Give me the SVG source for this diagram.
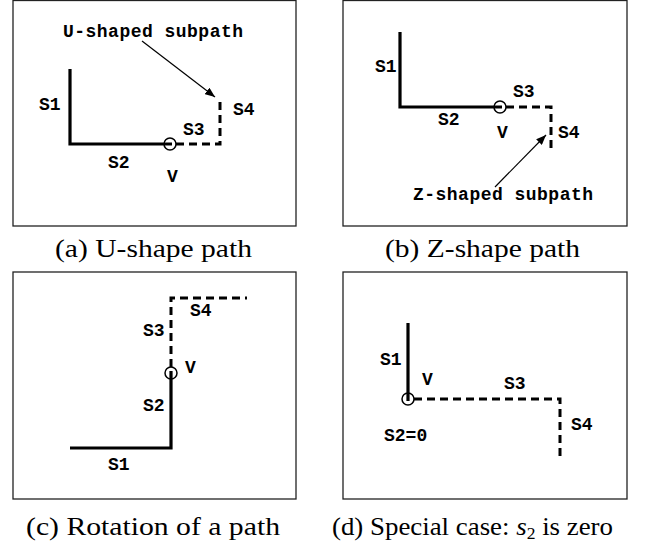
<svg xmlns="http://www.w3.org/2000/svg" width="659" height="546" viewBox="0 0 659 546">
<style>
.frame{fill:none;stroke:#222;stroke-width:1.3}
.solid{fill:none;stroke:#000;stroke-width:3.2;stroke-linecap:butt;stroke-linejoin:miter}
.dash{fill:none;stroke:#000;stroke-width:3;stroke-dasharray:8 5}
.vtx{fill:none;stroke:#000;stroke-width:1.5}
.lbl{font-family:"Liberation Mono","Courier New",monospace;font-weight:bold;font-size:18px;fill:#000}
.cap{font-family:"Liberation Serif","Times New Roman",serif;font-size:26px;fill:#000}
.arr{fill:none;stroke:#000;stroke-width:1.2}
</style>
<defs>
<marker id="ah" viewBox="0 0 10 8" refX="10" refY="4" markerWidth="10" markerHeight="8" markerUnits="userSpaceOnUse" orient="auto">
<path d="M0,0 L10,4 L0,8 Z" fill="#000"/>
</marker>
</defs>
<rect width="659" height="546" fill="#fff"/>

<g id="panel-a">
<rect class="frame" x="13" y="0.5" width="283" height="225.5"/>
<path class="solid" d="M70,69 V144 H172"/>
<path class="dash" d="M176,144 H220 V97"/>
<circle class="vtx" cx="170" cy="144" r="6"/>
<text class="lbl" x="39" y="110">S1</text>
<text class="lbl" x="108" y="168">S2</text>
<text class="lbl" x="183" y="135">S3</text>
<text class="lbl" x="233" y="115">S4</text>
<text class="lbl" x="167" y="182">V</text>
<text class="lbl" x="63" y="37" textLength="180">U-shaped subpath</text>
<text class="cap" x="55" y="257" textLength="197" lengthAdjust="spacingAndGlyphs">(a) U-shape path</text>
</g>

<g id="panel-b">
<rect class="frame" x="343" y="0.5" width="284" height="225.5"/>
<path class="solid" d="M400,32 V107 H502"/>
<path class="dash" d="M506,107 H551 V153"/>
<circle class="vtx" cx="500" cy="107" r="6"/>
<text class="lbl" x="375" y="72">S1</text>
<text class="lbl" x="438" y="125">S2</text>
<text class="lbl" x="513" y="97">S3</text>
<text class="lbl" x="558" y="138">S4</text>
<text class="lbl" x="497" y="138">V</text>
<text class="lbl" x="413" y="200" textLength="180">Z-shaped subpath</text>
<text class="cap" x="385" y="257" textLength="195" lengthAdjust="spacingAndGlyphs">(b) Z-shape path</text>
</g>

<g id="panel-c">
<rect class="frame" x="13" y="272" width="283" height="227"/>
<path class="solid" d="M70,448 H171 V371"/>
<path class="dash" d="M171,367 V298 H247"/>
<circle class="vtx" cx="171" cy="373" r="6"/>
<text class="lbl" x="108" y="470">S1</text>
<text class="lbl" x="143" y="411">S2</text>
<text class="lbl" x="143" y="336">S3</text>
<text class="lbl" x="190" y="316">S4</text>
<text class="lbl" x="185" y="373">V</text>
<text class="cap" x="26" y="535" textLength="254" lengthAdjust="spacingAndGlyphs">(c) Rotation of a path</text>
</g>

<g id="panel-d">
<rect class="frame" x="343" y="272" width="284" height="227"/>
<path class="solid" d="M408,323 V401"/>
<path class="dash" d="M414,399 H560 V458"/>
<circle class="vtx" cx="408" cy="399" r="6"/>
<text class="lbl" x="380" y="365">S1</text>
<text class="lbl" x="422" y="385">V</text>
<text class="lbl" x="504" y="389">S3</text>
<text class="lbl" x="571" y="430">S4</text>
<text class="lbl" x="384" y="441">S2=0</text>
<text class="cap" x="332" y="535" textLength="281" lengthAdjust="spacingAndGlyphs">(d) Special case: <tspan font-style="italic">s</tspan><tspan font-size="17" dy="4">2</tspan><tspan dy="-4"> is zero</tspan></text>
</g>

<g id="connectors">
<path class="arr" d="M142,41 L215,97" marker-end="url(#ah)"/>
<path class="arr" d="M495,187 L546,135" marker-end="url(#ah)"/>
</g>
</svg>
